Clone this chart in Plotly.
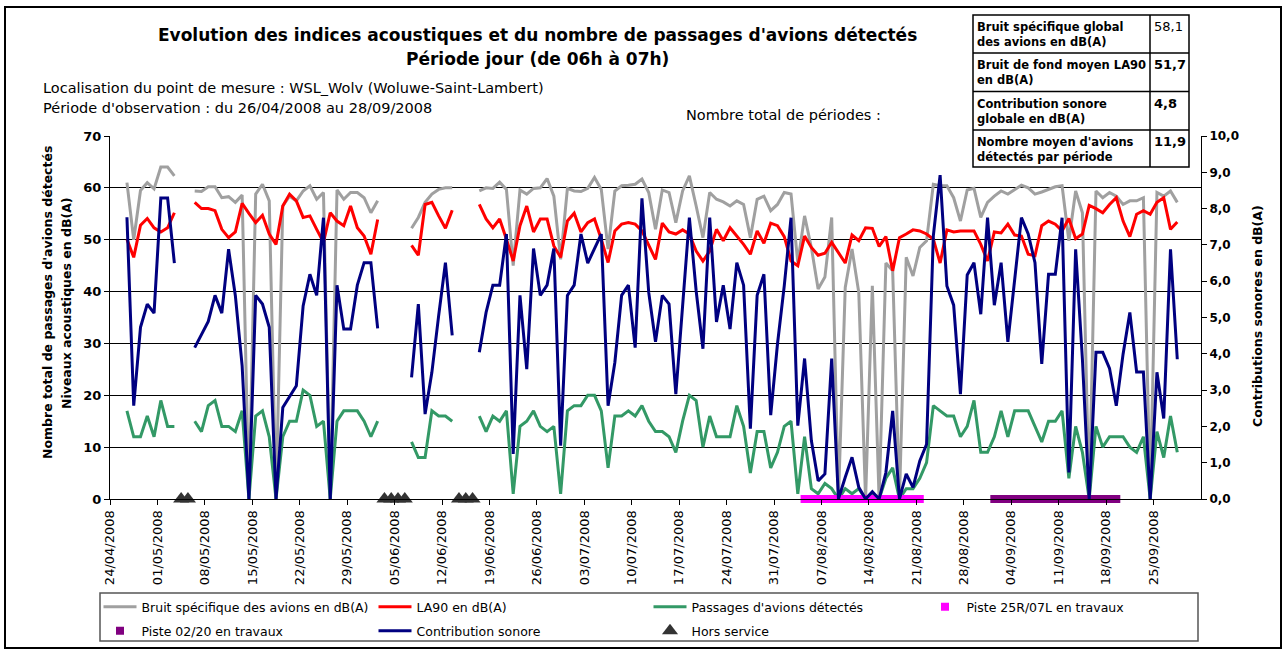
import pandas as pd
import plotly.graph_objects as go

# ---------------- data ----------------
start_date = "2008-04-26"
end_date = "2008-09-28"

bruit_specifique = [61, 50, 59.5, 61, 59.8, 64, 64, 62.3, None, None,
    59.4, 59.3, 60.2, 60.2, 58.1, 58.3, 57.2, 58.6, 0, 58.8, 60.7, 57.5, 0, 56.5, 58.4, 57.5, 59.4, 60.4, 57.8, 59.1,
    0, 59.6, 57.8, 59.1, 59.1, 58.1, 55.2, 57.5,
    None, None, None, None,
    52.2, 54.3, 57.2, 58.8, 59.7, 60, 60,
    None, None, None,
    59.4, 60, 59.9, 61.1, 59.7, 45, 59.6, 58.8, 59.9, 60,
    61.8, 58.4, 46.2, 59.9, 59.4, 59.3, 59.9, 62, 59.7, 48.2,
    59.4, 60.4, 60.5, 60.7, 61.7, 59.1, 52, 59.6, 59.1, 53.3,
    59.4, 62.3, 56.5, 50.4, 59.1, 57.8, 57.3, 56.5, 57.5, 56.8,
    50.4, 57.8, 58.4, 55.6, 56.8, 59.1, 58.8, 45.6, 54.6, 48.5,
    40.5, 42.8, 54.3, 0,
    40.8, 48.2, 39.8, 0, 41.1, 0, 45.5, 44, 0, 46.6,
    43, 48.5, 49.8, 60.7, 60.4, 60.4, 58.1, 53.6, 59.6, 59.9,
    54.3, 57.2, 58.4, 59.4, 58.8, 59.7, 60.5, 60, 58.8, 59.2,
    59.7, 60.2, 60.4, 49.8, 59.4, 55.2, 0, 59.4, 58.1, 59.1,
    58.4, 56.8, 57.5, 57.5, 58.1, 0, 59.1, 58.4, 59.4, 57.2]

la90 = [50.1, 46.6, 52.8, 54.1, 52.3, 51.5, 52.3, 55.2, None, None,
    57.2, 56, 56, 55.6, 52, 50.4, 51.5, 57, 55.1, 53.3,
    54.7, 51.1, 49.1, 56.5, 58.8, 57.5, 54.3, 54.6, 52, 49.5,
    55.2, 53.6, 52.7, 56.5, 52.3, 50.7, 47.2, 53.9,
    None, None, None, None,
    48.9, 47, 56.8, 57.2, 54.6, 52.2, 55.7,
    None, None, None,
    56.8, 54, 52.3, 54, 50.1, 45.9, 52.7, 56.5, 51.5, 54,
    54, 48.8, 46.6, 53.6, 55.1, 51.5, 53.3, 54, 50.1, 45.6,
    51.7, 53, 53.3, 53, 51.7, 49.1, 46.2, 53.2, 51.5, 51.1,
    51.9, 51.1, 47.8, 45.9, 47.8, 52, 49.8, 52.3, 50.7, 49.1,
    47.2, 51.7, 49.3, 53.2, 52.7, 50.6, 45.9, 45, 50.7, 48.5,
    47, 47.4, 49.5, 47.6,
    45.5, 50.9, 49.8, 52.3, 52.2, 48.7, 50.6, 44, 50.4, 51.1,
    51.9, 51.7, 51.1, 50.1, 45.5, 51.9, 51.5, 51.7, 51.7, 51.7,
    49.1, 45.9, 51.5, 51.3, 53, 50.9, 50.7, 47.2, 46.9, 52.7,
    53.6, 53, 51.7, 54.1, 50.2, 51.1, 56.6, 56, 55.2, 56.8,
    58.1, 53.6, 50.6, 54.9, 55.6, 54.9, 57.2, 58.1, 52, 53.4]

passages = [17, 12, 12, 16, 12, 19, 14, 14, None, None,
    15, 13, 18, 19, 14, 14, 13, 17, 0, 16,
    17, 12, 0, 12, 15, 15, 21, 20, 14, 15,
    0, 15, 17, 17, 17, 15, 12, 15,
    None, None, None, None,
    11, 8, 8, 17, 16, 16, 15,
    None, None, None,
    16, 13, 16, 15, 17, 1, 14, 15, 17, 14,
    13, 14, 1, 17, 18, 18, 20, 20, 17, 6,
    16, 16, 17, 16, 18, 15, 13, 13, 12, 9,
    15, 20, 19, 10, 16, 12, 12, 12, 18, 14,
    5, 13, 13, 6, 9, 14, 15, 1, 12, 2,
    1, 3, 2, 0,
    2, 1, 2, 0, 1, 0, 4, 6, 0, 2,
    2, 4, 7, 18, 17, 16, 16, 12, 14, 19,
    9, 9, 12, 17, 12, 17, 17, 17, 14, 11,
    15, 15, 17, 4, 14, 9, 0, 14, 10, 12,
    12, 12, 10, 9, 12, 0, 13, 8, 16, 9]

contribution = [7.76, 2.57, 4.73, 5.37, 5.12, 8.29, 8.29, 6.5, None, None,
    4.17, 4.54, 4.89, 5.61, 5.12, 6.88, 5.6, 3.67, 0, 5.61,
    5.37, 4.73, 0, 2.52, 2.84, 3.12, 5.32, 6.19, 5.61, 7.75,
    0, 5.89, 4.68, 4.68, 5.89, 6.51, 6.51, 4.7,
    None, None, None, None,
    3.35, 5.37, 2.34, 3.49, 5.05, 6.51, 4.51,
    None, None, None,
    4.04, 5.14, 5.89, 5.89, 7.3, 1.24, 5.61, 3.58, 6.9, 5.61,
    5.89, 6.9, 1.47, 5.61, 5.89, 7.3, 6.5, 6.9, 7.3, 2.57,
    3.76, 5.61, 5.89, 4.17, 8.28, 5.69, 4.33, 5.61, 5.37, 2.89,
    5.32, 7.75, 5.73, 4.14, 7.75, 4.88, 5.89, 4.68, 6.51, 5.89,
    1.94, 5.61, 6.19, 2.31, 4.27, 5.87, 7.75, 2.02, 3.87, 1.61,
    0.5, 0.69, 3.87, 0,
    0.6, 1.15, 0.32, 0, 0.2, 0, 0.73, 2.43, 0, 0.69,
    0.32, 1.05, 1.51, 7.25, 8.92, 5.87, 5.34, 2.89, 6.17, 6.51,
    5.09, 7.75, 5.34, 6.51, 4.33, 6.01, 7.75, 7.3, 6.51, 3.72,
    6.19, 6.19, 7.75, 0.73, 6.88, 3.85, 0, 4.04, 4.04, 3.6,
    2.57, 3.99, 5.14, 3.5, 3.5, 0, 3.49, 2.22, 6.88, 3.85]

hors_service_dates = ["2008-05-04", "2008-05-05", "2008-06-03", "2008-06-04", "2008-06-05",
                      "2008-06-06", "2008-06-14", "2008-06-15", "2008-06-16"]
piste_25R_period = ("2008-08-04", "2008-08-21")
piste_0220_period = ("2008-09-01", "2008-09-19")

tick_start, tick_end = "2008-04-24", "2008-09-25"

table_labels = ["Bruit spécifique global<br>des avions en dB(A)",
                "Bruit de fond moyen LA90<br>en dB(A)",
                "Contribution sonore<br>globale en dB(A)",
                "Nombre moyen d'avions<br>détectés par période"]
table_values = ["58,1", "51,7", "4,8", "11,9"]

# ---------------- helpers ----------------
W, H = 1285, 653
ML, MR, MT, MB = 110, 84, 136, 154
PW, PH = W - ML - MR, H - MT - MB

def px(x):
    return (x - ML) / PW

def py(y):
    return (H - MB - y) / PH

FONT = "DejaVu Sans, Liberation Sans, Arial, sans-serif"
half_day = pd.Timedelta(hours=12)
dates = pd.date_range(start_date, end_date) + half_day
hs = pd.to_datetime(hors_service_dates) + half_day
p25 = pd.date_range(*piste_25R_period) + half_day
p02 = pd.date_range(*piste_0220_period) + half_day
tickvals = pd.date_range(tick_start, tick_end, freq="7D")

fig = go.Figure()
fig.add_trace(go.Scatter(x=dates, y=bruit_specifique, mode="lines", name="Bruit spécifique des avions en dB(A)",
                         line=dict(color="#A0A0A0", width=3), legend="legend"))
fig.add_trace(go.Scatter(x=dates, y=la90, mode="lines", name="LA90 en dB(A)",
                         line=dict(color="#FF0000", width=3), legend="legend"))
fig.add_trace(go.Scatter(x=dates, y=passages, mode="lines", name="Passages d'avions détectés",
                         line=dict(color="#339966", width=3), legend="legend"))
fig.add_trace(go.Scatter(x=p25, y=[0] * len(p25), mode="markers", name="Piste 25R/07L en travaux",
                         marker=dict(symbol="square", size=8, color="#FF00FF"), cliponaxis=False, legend="legend"))
fig.add_trace(go.Scatter(x=p02, y=[0] * len(p02), mode="markers", name="Piste 02/20 en travaux",
                         marker=dict(symbol="square", size=8, color="#800080"), cliponaxis=False, legend="legend2"))
fig.add_trace(go.Scatter(x=dates, y=contribution, mode="lines", name="Contribution sonore", yaxis="y2",
                         line=dict(color="#000080", width=3), legend="legend2"))
fig.add_trace(go.Scatter(x=hs, y=[0] * len(hs), mode="markers", name="Hors service",
                         marker=dict(symbol="triangle-up", size=14, color="#333333"), cliponaxis=False,
                         legend="legend2"))

legend_common = dict(orientation="h", xanchor="left", yanchor="top", bgcolor="rgba(0,0,0,0)",
                     borderwidth=0, font=dict(family=FONT, size=12.5, color="black"),
                     entrywidth=227, entrywidthmode="pixels", itemwidth=33, traceorder="normal",
                     itemclick=False)

shapes = [
    dict(type="rect", xref="paper", yref="paper", x0=px(5), x1=px(1281), y0=py(648), y1=py(7),
         line=dict(color="black", width=2), layer="below"),
    dict(type="rect", xref="paper", yref="paper", x0=px(100), x1=px(1198), y0=py(641), y1=py(593),
         line=dict(color="#555555", width=1.5)),
    dict(type="rect", xref="paper", yref="paper", x0=px(973), x1=px(1189), y0=py(167), y1=py(15),
         line=dict(color="black", width=1.5), fillcolor="white", layer="above"),
    dict(type="line", xref="paper", yref="paper", x0=px(1150), x1=px(1150), y0=py(167), y1=py(15),
         line=dict(color="black", width=1.5)),
]
for yy in (53, 91.5, 130):
    shapes.append(dict(type="line", xref="paper", yref="paper", x0=px(973), x1=px(1189), y0=py(yy), y1=py(yy),
                       line=dict(color="black", width=1.5)))

annotations = [
    dict(text="<b>Evolution des indices acoustiques et du nombre de passages d'avions détectés</b>",
         x=px(537), y=py(35), font=dict(size=17)),
    dict(text="<b>Période jour (de 06h à 07h)</b>", x=px(537), y=py(59), font=dict(size=17)),
    dict(text="Localisation du point de mesure : WSL_Wolv (Woluwe-Saint-Lambert)", x=px(41), y=py(88),
         xanchor="left", font=dict(size=14.5)),
    dict(text="Période d'observation : du 26/04/2008 au 28/09/2008", x=px(41), y=py(108),
         xanchor="left", font=dict(size=14.5)),
    dict(text="Nombre total de périodes :", x=px(684), y=py(115), xanchor="left", font=dict(size=14.5)),
    dict(text="<b>Nombre total de passages d'avions détectés</b>", x=px(47), y=py(303), textangle=-90,
         font=dict(size=12.5)),
    dict(text="<b>Niveaux acoustiques en dB(A)</b>", x=px(66), y=py(303), textangle=-90, font=dict(size=12.5)),
    dict(text="<b>Contributions sonores en dB(A)</b>", x=px(1257), y=py(316), textangle=-90,
         font=dict(size=12.5)),
]
row_centers = [35, 73, 111.5, 149]
for i, (lab, val) in enumerate(zip(table_labels, table_values)):
    annotations.append(dict(text="<b>" + lab + "</b>", x=px(975), y=py(row_centers[i]), xanchor="left",
                            align="left", font=dict(size=11.5)))
    vtxt = val if i == 0 else "<b>" + val + "</b>"
    annotations.append(dict(text=vtxt, x=px(1152), y=py(row_centers[i] - 8), xanchor="left",
                            font=dict(size=13)))
for a in annotations:
    a.setdefault("xref", "paper")
    a.setdefault("yref", "paper")
    a.setdefault("showarrow", False)
    a.setdefault("xanchor", "center")
    a.setdefault("yanchor", "middle")
    a["font"] = dict(family=FONT, color="black", **a["font"])

fig.update_layout(
    width=W, height=H,
    margin=dict(l=ML, r=MR, t=MT, b=MB, pad=0, autoexpand=False),
    paper_bgcolor="white", plot_bgcolor="white",
    separators=", ",
    font=dict(family=FONT, color="black"),
    xaxis=dict(type="date", range=["2008-04-24", "2008-10-02"], tickmode="array", tickvals=tickvals,
               tickformat="%d/%m/%Y", tickangle=-90, ticks="outside", ticklen=5, tickcolor="black",
               showline=True, linecolor="black", linewidth=1, showgrid=False, zeroline=False,
               automargin=False, tickfont=dict(family=FONT, size=13, color="black")),
    yaxis=dict(range=[0, 70], tick0=0, dtick=10, showgrid=True, gridcolor="black", gridwidth=1,
               showline=True, linecolor="black", linewidth=1, ticks="outside", ticklen=5, tickcolor="black",
               zeroline=False, automargin=False,
               tickfont=dict(family=FONT, size=13, color="black", weight="bold")),
    yaxis2=dict(range=[0, 10], tick0=0, dtick=1, tickformat=".1f", overlaying="y", side="right",
                showgrid=False, showline=True, linecolor="black", linewidth=1, ticks="outside", ticklen=5,
                tickcolor="black", zeroline=False, automargin=False,
                tickfont=dict(family=FONT, size=12, color="black", weight="bold")),
    legend=dict(x=px(98.5), y=py(592), **legend_common),
    legend2=dict(x=px(98.5), y=py(616), **legend_common),
    shapes=shapes,
    annotations=annotations,
    showlegend=True,
)

fig.write_html("out.html", config={"displayModeBar": False},
               post_script="document.body.style.margin='0';")
